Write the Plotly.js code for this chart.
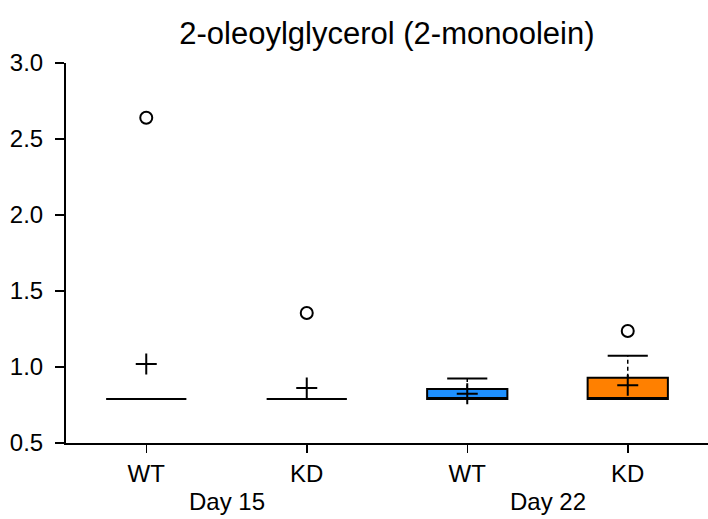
<!DOCTYPE html>
<html>
<head>
<meta charset="utf-8">
<script src="https://cdn.plot.ly/plotly-3.0.1.min.js"></script>
<style>html,body{margin:0;padding:0;background:#fff;}#chart{width:708px;height:519px;}</style>
</head>
<body>
<div id="chart"></div>
<script>
// ---- data ----
var groups     = ["Day 15", "Day 15", "Day 22", "Day 22"];
var genotypes  = ["WT", "KD", "WT", "KD"];
var q1         = [0.79, 0.79, 0.79, 0.79];
var medians    = [0.79, 0.79, 0.79, 0.79];
var q3         = [0.79, 0.79, 0.855, 0.93];
var lowerWhisk = [0.79, 0.79, 0.79, 0.79];
var upperWhisk = [0.79, 0.79, 0.925, 1.074];
var means      = [1.02, 0.862, 0.824, 0.88];
var outliers   = [[2.64], [1.355], [], [1.237]];
var fills      = ["#ffffff", "#ffffff", "#1E90FF", "#FF8000"];

var FONT = 'Liberation Sans, Arial, Helvetica, sans-serif';
var idx = genotypes.map(function(_, i){ return i; });
var BOXW = 0.5, CAPH = 0.125;
var traces = [];

// boxes (no built-in whiskers)
idx.forEach(function(i){
  traces.push({
    type: 'box', x: [i], q1: [q1[i]], median: [medians[i]], q3: [q3[i]],
    lowerfence: [q1[i]], upperfence: [q3[i]],
    width: BOXW, whiskerwidth: 0,
    fillcolor: fills[i], line: {color: '#000', width: 2},
    hoverinfo: 'skip', showlegend: false
  });
});

// dashed whiskers and caps
var wx = [], wy = [], cx = [], cy = [];
idx.forEach(function(i){
  wx.push(i, i, null, i, i, null);
  wy.push(q3[i], upperWhisk[i], null, q1[i], lowerWhisk[i], null);
  cx.push(i - CAPH, i + CAPH, null, i - CAPH, i + CAPH, null);
  cy.push(upperWhisk[i], upperWhisk[i], null, lowerWhisk[i], lowerWhisk[i], null);
});
traces.push({type:'scatter', mode:'lines', x: wx, y: wy, line:{color:'#000', width:1.5, dash:'4px,3px'}, hoverinfo:'skip', showlegend:false});
traces.push({type:'scatter', mode:'lines', x: cx, y: cy, line:{color:'#000', width:2}, hoverinfo:'skip', showlegend:false});

// means
traces.push({type:'scatter', mode:'markers', x: idx, y: means,
  marker:{symbol:'cross-thin', size:15, line:{color:'#000', width:2}}, hoverinfo:'skip', showlegend:false});

// outliers
var ox = [], oy = [];
idx.forEach(function(i){ outliers[i].forEach(function(v){ ox.push(i); oy.push(v); }); });
traces.push({type:'scatter', mode:'markers', x: ox, y: oy,
  marker:{symbol:'circle-open', size:12, color:'#000', line:{color:'#000', width:2}}, hoverinfo:'skip', showlegend:false});

// group labels
var uniq = groups.filter(function(g, i){ return groups.indexOf(g) === i; });
var annotations = uniq.map(function(g){
  var members = idx.filter(function(i){ return groups[i] === g; });
  var mx = members.reduce(function(a, b){ return a + b; }, 0) / members.length;
  return {text: g, x: mx, xref: 'x', y: 0, yref: 'paper', yanchor: 'top', yshift: -43,
          showarrow: false, font: {family: FONT, size: 24, color: '#000'}};
});

var layout = {
  width: 708, height: 519,
  margin: {l: 66, r: 0, t: 63, b: 76},
  paper_bgcolor: '#fff', plot_bgcolor: '#fff',
  font: {family: FONT, size: 24, color: '#000'},
  title: {text: '2-oleoylglycerol (2-monoolein)', x: 0.5465, xanchor: 'center', y: 0.936, yanchor: 'middle',
          font: {family: FONT, size: 31, color: '#000'}},
  boxmode: 'overlay',
  showlegend: false,
  xaxis: {range: [-0.5, 3.5], tickvals: idx, ticktext: genotypes, showgrid: false, zeroline: false,
          showline: true, linecolor: '#000', linewidth: 2, ticks: 'outside', ticklen: 8, tickwidth: 1.5,
          tickcolor: '#000', tickfont: {family: FONT, size: 24}},
  yaxis: {range: [0.5, 3.0], dtick: 0.5, tick0: 0.5, tickformat: '.1f', showgrid: false, zeroline: false,
          showline: true, linecolor: '#000', linewidth: 2, ticks: 'outside', ticklen: 9, tickwidth: 1.5,
          tickcolor: '#000', tickfont: {family: FONT, size: 24}, ticklabelstandoff: 7},
  annotations: annotations
};

Plotly.newPlot('chart', traces, layout, {staticPlot: true, displayModeBar: false});
</script>
</body>
</html>
